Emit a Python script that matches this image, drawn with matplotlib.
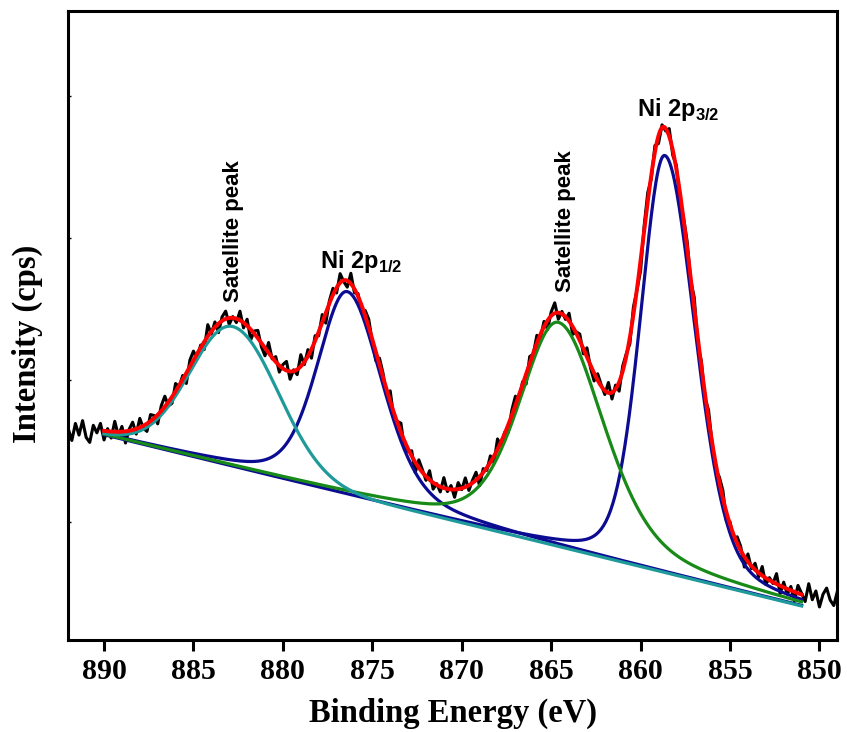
import numpy as np
import matplotlib
matplotlib.use("Agg")
import matplotlib.pyplot as plt

# ---------------- data ----------------
# raw spectrum: energy grid 892 -> 849 eV (0.2 eV step); noise residual
# around the fitted envelope, in units of 130 cps
raw_start, raw_stop = 892.0, 849.0
raw_residual = [
    3, -6, 7, -2, 9, -4, -8, 5, -1, 6, -7, 2,
    -5, 8, -3, 4, -9, 1, 6, -4, 7, -2, -6, 5,
    2, -7, 4, 8, -3, -5, 6, -1, 3, -8, 5, 7,
    -4, 2, -6, 9, -2, 4, -7, 3, 6, -5, 1, -3,
    7, -4, 5, -8, 2, 6, -3, -6, 8, -1, 4, -5,
    3, 7, -6, 1, -4, 9, -2, 5, -7, 4, -3, 6,
    -8, 2, 5, -4, 7, -1, -5, 8, -3, 2, -6, 4,
    6, -2, -7, 5, 3, -5, 8, -4, 1, 7, -6, -2,
    4, -8, 6, 2, -3, 7, -5, 1, -4, 8, -2, 3,
    -6, 5, -1, 7, -4, 2, 6, -7, 3, -2, 5, -5,
    8, -3, 1, -6, 4, 7, -4, 2, -8, 5, -1, 6,
    -3, 4, -7, 3, 8, -5, 2, -2, 6, -6, 1, 5,
    -4, 7, -2, -6, 5, 1, -3, 8, -5, 3, -7, 4,
    2, -5, 6, -1, -8, 4, 7, -3, 5, -6, 2, -2,
    6, -4, 3, -7, 1, 5, -2, 8, -6, 4, -3, 7,
    -1, -5, 4, 6, -7, 2, -4, 5, 3, -8, 6, -2,
    5, -3, 7, -5, 2, -1, 8, -6, 4, -4, 3, -7,
    6, 1, -5, 9, -3, 4, -8, 2, 7, -2, -6, 5,
]
residual_unit = 130.0

# fit window and linear background (cps)
fit_start, fit_stop = 890.0, 851.0
bg_at_start, bg_at_stop = 20500, 3400

# fitted components
peak_names = ["Satellite 1", "Ni 2p1/2", "Satellite 2", "Ni 2p3/2"]
peak_centers = [882.8, 876.4, 864.6, 858.65]
peak_heights = [14000, 20300, 22400, 41700]
peak_hwhm_high_be = [2.8, 2.0, 2.6, 1.6]
peak_hwhm_low_be = [3.0, 2.3, 3.0, 2.0]
peak_lorentz_frac = [0.0, 0.35, 0.4, 0.25]
peak_colors = ["#1f9a9a", "#0c0c92", "#178a17", "#0c0c92"]

x_ticks = [890, 885, 880, 875, 870, 865, 860, 855, 850]
y_ticks = [11800, 26000, 40200, 54400]

labels = [
    ("Satellite peak", 882.75, 33800, 90),
    ("Satellite peak", 864.2, 34800, 90),
]
ni_labels = [
    ("Ni 2p$_{\\mathbf{1/2}}$", 877.9, 37200),
    ("Ni 2p$_{\\mathbf{3/2}}$", 860.2, 52400),
]

# ---------------- model ----------------
def background(x):
    return np.interp(x, [fit_stop, fit_start], [bg_at_stop, bg_at_start])


def pseudo_voigt(x, c, h, w_hi, w_lo, eta):
    w = np.where(x > c, w_hi, w_lo)
    u = ((x - c) / w) ** 2
    return h * ((1 - eta) * np.exp(-np.log(2) * u) + eta / (1 + u))


def components(x):
    return [pseudo_voigt(x, c, h, wh, wl, e) for c, h, wh, wl, e in
            zip(peak_centers, peak_heights, peak_hwhm_high_be,
                peak_hwhm_low_be, peak_lorentz_frac)]


x_raw = np.linspace(raw_start, raw_stop, len(raw_residual))
y_raw = background(x_raw) + np.sum(components(x_raw), axis=0) \
    + np.array(raw_residual) * residual_unit

x_fit = np.linspace(fit_start, fit_stop, 600)
bg_fit = background(x_fit)
comp_fit = components(x_fit)
envelope = bg_fit + np.sum(comp_fit, axis=0)

# ---------------- plot ----------------
plt.rcParams["mathtext.fontset"] = "custom"
plt.rcParams["mathtext.bf"] = "Liberation Sans:bold"
plt.rcParams["mathtext.rm"] = "Liberation Sans:bold"

fig = plt.figure(figsize=(8.47, 7.32), dpi=100)
ax = fig.add_axes([0.0806, 0.1257, 0.908, 0.8597])

ax.plot(x_raw, y_raw, color="black", lw=2.2, zorder=1)
order = [1, 3, 2, 0]
for i in order:
    ax.plot(x_fit, bg_fit + comp_fit[i], color=peak_colors[i], lw=2.3,
            zorder=2)
ax.plot(x_fit, envelope, color="#ff0000", lw=2.8, zorder=3)

ax.set_xlim(892, 849)
ax.set_ylim(0, 62930)

ax.set_xticks(x_ticks)
ax.set_xticklabels([str(t) for t in x_ticks], fontfamily="Liberation Serif",
                   fontweight="bold", fontsize=21.5)
ax.tick_params(axis="x", direction="out", length=8, width=2.2, pad=5)
ax.set_yticks(y_ticks)
ax.set_yticklabels([])
ax.tick_params(axis="y", direction="in", length=2.5, width=1)
for s in ax.spines.values():
    s.set_linewidth(2.2)

ax.set_xlabel("Binding Energy (eV)", fontfamily="Liberation Serif",
              fontweight="bold", fontsize=23.5)
ax.xaxis.set_label_coords(0.5, -0.092)
ax.set_ylabel("Intensity (cps)", fontfamily="Liberation Serif",
              fontweight="bold", fontsize=23.5)
ax.yaxis.set_label_coords(-0.033, 0.47)

for txt, x, y, rot in labels:
    ax.text(x, y, txt, rotation=rot, ha="center", va="bottom",
            fontfamily="Liberation Sans", fontweight="bold", fontsize=16)
for txt, x, y in ni_labels:
    ax.text(x, y, txt, ha="left", va="baseline",
            fontfamily="Liberation Sans", fontweight="bold", fontsize=17)

fig.savefig("out.png", dpi=100)
